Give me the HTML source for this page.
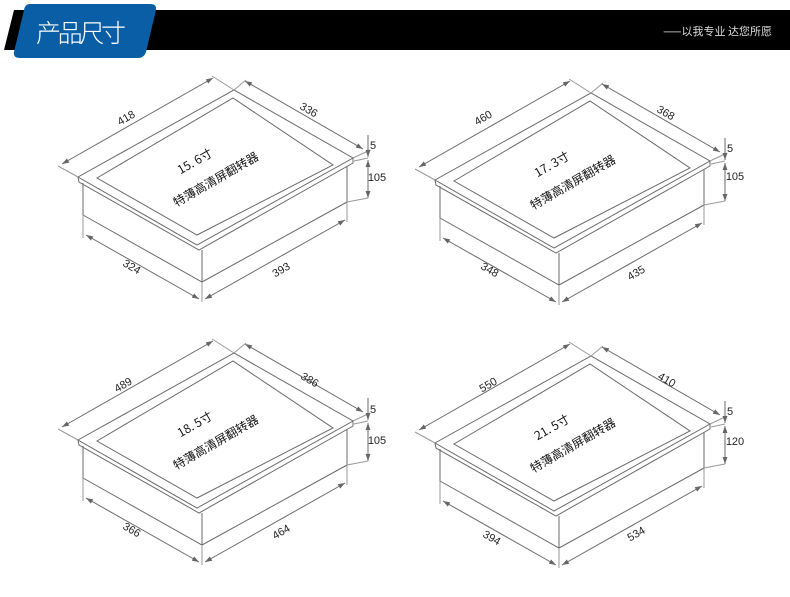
<!DOCTYPE html>
<html><head><meta charset="utf-8"><style>
body{margin:0;width:790px;height:597px;background:#fff;overflow:hidden;position:relative;font-family:"Liberation Sans","Noto Sans CJK SC",sans-serif}
svg{position:absolute;left:0;top:0}
</style></head><body>
<svg width="790" height="597" viewBox="0 0 790 597">
<defs>
<marker id="a" viewBox="0 0 10 10" refX="10" refY="5" markerWidth="7" markerHeight="7" orient="auto-start-reverse"><path d="M0,1.5 L10,5 L0,8.5z" fill="#666"/></marker>
<g id="box" fill="none" stroke="#6a6a6a" stroke-width="1">
<polygon points="78,177 234,90 353,158 197,245" fill="#fff"/>
<polyline points="78,177 79,182 199,250 353,163 353,158"/>
<polygon points="97,178 233,98 333,165 197,235"/>
<line x1="83" y1="183" x2="83" y2="215"/><line x1="202" y1="250" x2="202" y2="282"/><line x1="347" y1="166" x2="347" y2="202"/>
<polyline points="83,215 202,282 347,202"/>
<line x1="83" y1="215" x2="83" y2="238" stroke="#999"/><line x1="202" y1="282" x2="202" y2="302" stroke="#999"/><line x1="347" y1="202" x2="347" y2="222" stroke="#999"/>
<line x1="86" y1="235" x2="199" y2="299" marker-start="url(#a)" marker-end="url(#a)"/>
<line x1="205" y1="299" x2="345" y2="220" marker-start="url(#a)" marker-end="url(#a)"/>
<line x1="78" y1="177" x2="58" y2="166" stroke="#999"/><line x1="234" y1="90" x2="212" y2="76" stroke="#999"/><line x1="234" y1="90" x2="246" y2="80" stroke="#999"/><line x1="353" y1="158" x2="370" y2="150" stroke="#999"/>
<line x1="62" y1="164" x2="213" y2="78" marker-start="url(#a)" marker-end="url(#a)"/>
<line x1="245" y1="81" x2="363" y2="149" marker-start="url(#a)" marker-end="url(#a)"/>
<line x1="368" y1="135" x2="368" y2="157" marker-end="url(#a)"/>
<line x1="368" y1="160" x2="368" y2="198" marker-start="url(#a)" marker-end="url(#a)"/>
<line x1="354" y1="161" x2="368" y2="158" stroke="#999"/><line x1="347" y1="202" x2="368" y2="198" stroke="#999"/>
</g>
</defs>
<polygon points="14,10 790,10 790,50 4,50" fill="#000"/>
<path d="M30,4 L150,4 Q157,4 156,10 L146,52 Q144,58 138,58 L20,58 Q13,58 14,52 L24,10 Q25,4 30,4z" fill="#0a5ea5"/>
<text x="36" y="42" font-size="25" fill="#fff" font-family="Noto Sans CJK SC,sans-serif" font-weight="300" textLength="90">产品尺寸</text>
<text x="772" y="35" font-size="11" fill="#ddd" text-anchor="end" font-family="Noto Sans CJK SC,sans-serif">——以我专业  达您所愿</text>
<use href="#box"/>
<use href="#box" transform="translate(357,3)"/>
<use href="#box" transform="translate(0,263)"/>
<use href="#box" transform="translate(357,266)"/>
<g font-size="11" fill="#222" text-anchor="middle">
<text transform="translate(128,121) rotate(-30)">418</text>
<text transform="translate(307,113) rotate(30)">336</text>
<text transform="translate(130,270) rotate(30)">324</text>
<text transform="translate(283,273) rotate(-30)">393</text>
<text x="373" y="149">5</text><text x="377" y="181">105</text>
<text transform="translate(485,121) rotate(-30)">460</text>
<text transform="translate(664,116) rotate(30)">368</text>
<text transform="translate(488,273) rotate(30)">348</text>
<text transform="translate(638,276) rotate(-30)">435</text>
<text x="730" y="152">5</text><text x="735" y="180">105</text>
<text transform="translate(125,388) rotate(-30)">489</text>
<text transform="translate(308,383) rotate(30)">386</text>
<text transform="translate(130,533) rotate(30)">366</text>
<text transform="translate(283,535) rotate(-30)">464</text>
<text x="373" y="413">5</text><text x="377" y="444">105</text>
<text transform="translate(490,388) rotate(-30)">550</text>
<text transform="translate(665,383) rotate(30)">410</text>
<text transform="translate(490,541) rotate(30)">394</text>
<text transform="translate(638,537) rotate(-30)">534</text>
<text x="730" y="415">5</text><text x="735" y="445">120</text>
</g>
<g font-size="12" fill="#111" text-anchor="middle" font-family="Noto Sans CJK SC,sans-serif">
<text transform="translate(197,165) rotate(-30)">15. 6寸</text>
<text transform="translate(218,183) rotate(-30)">特薄高清屏翻转器</text>
<text transform="translate(554,168) rotate(-30)">17. 3寸</text>
<text transform="translate(575,186) rotate(-30)">特薄高清屏翻转器</text>
<text transform="translate(197,428) rotate(-30)">18. 5寸</text>
<text transform="translate(218,446) rotate(-30)">特薄高清屏翻转器</text>
<text transform="translate(554,431) rotate(-30)">21. 5寸</text>
<text transform="translate(575,449) rotate(-30)">特薄高清屏翻转器</text>
</g>
</svg>
</body></html>
